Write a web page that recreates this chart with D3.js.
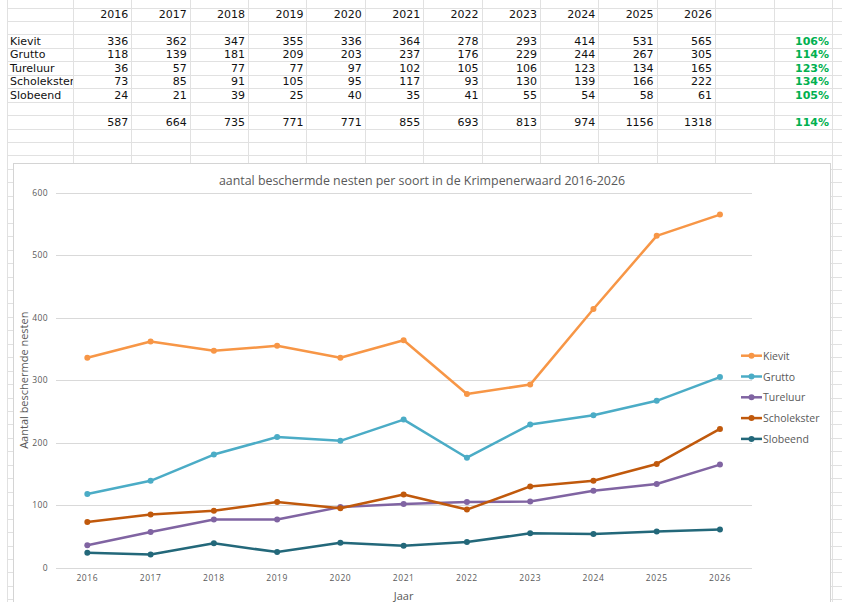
<!DOCTYPE html>
<html>
<head>
<meta charset="utf-8">
<script src="https://cdn.jsdelivr.net/npm/d3@7"></script>
<style>
  html, body { margin: 0; padding: 0; background: #fff; }
  svg { display: block; }
</style>
</head>
<body>
<div id="chart"></div>
<script>
// Broedvogels Krimpenerwaard: table + line chart, spreadsheet look
const years = ['2016', '2017', '2018', '2019', '2020', '2021', '2022', '2023', '2024', '2025', '2026'];
const species = ['Kievit', 'Grutto', 'Tureluur', 'Scholekster', 'Slobeend'];
const kievit = [336, 362, 347, 355, 336, 364, 278, 293, 414, 531, 565];
const grutto = [118, 139, 181, 209, 203, 237, 176, 229, 244, 267, 305];
const tureluur = [36, 57, 77, 77, 97, 102, 105, 106, 123, 134, 165];
const scholekster = [73, 85, 91, 105, 95, 117, 93, 130, 139, 166, 222];
const slobeend = [24, 21, 39, 25, 40, 35, 41, 55, 54, 58, 61];
const totals = [587, 664, 735, 771, 771, 855, 693, 813, 974, 1156, 1318];
const growth = ['106%', '114%', '123%', '134%', '105%'];
const totalGrowth = '114%';
const yTicks = [0, 100, 200, 300, 400, 500, 600];
const colors = ['#F79646', '#4BACC6', '#8064A2', '#C0590C', '#23687A'];

const title = 'aantal beschermde nesten per soort in de Krimpenerwaard 2016-2026';
const yTitle = 'Aantal beschermde nesten';
const xTitle = 'Jaar';

const W = 842, H = 602;
const seriesValues = [kievit, grutto, tureluur, scholekster, slobeend];
const series = species.map((name, i) => ({ name, color: colors[i], values: seriesValues[i] }));

const svg = d3.select('#chart').append('svg').attr('width', W).attr('height', H);

// ---- spreadsheet grid ----
const ROW0 = 7.5, ROWH = 13.45;
const gridColor = '#e1e1e1';
const colEdges = [7, 73];
const colX = d3.scaleBand().domain(years).range([73, 715]).padding(0);
years.forEach(y => colEdges.push(colX(y) + colX.bandwidth()));
colEdges.push(774, 832);

const grid = svg.append('g').attr('shape-rendering', 'crispEdges');
d3.range(-1, 45).forEach(k => {
  const y = Math.round(ROW0 + k * ROWH) + 0.5;
  grid.append('line').attr('x1', 7).attr('x2', W).attr('y1', y).attr('y2', y)
    .attr('stroke', gridColor);
});
colEdges.forEach(x => {
  grid.append('line').attr('x1', Math.round(x) + 0.5).attr('x2', Math.round(x) + 0.5)
    .attr('y1', 0).attr('y2', H).attr('stroke', gridColor);
});

// ---- table text ----
const rowCenter = i => ROW0 + i * ROWH + ROWH / 2 + 0.3;
const tbl = svg.append('g').style('font-family', "'DejaVu Sans', Verdana, sans-serif")
  .style('font-size', '11px').style('fill', '#111');

svg.append('clipPath').attr('id', 'colA').append('rect')
  .attr('x', 7).attr('y', 0).attr('width', 66).attr('height', 150);

tbl.selectAll('.yh').data(years).enter().append('text')
  .attr('x', d => colX(d) + colX.bandwidth() - 3).attr('y', rowCenter(0))
  .attr('text-anchor', 'end').attr('dominant-baseline', 'central').text(d => d);

series.forEach((s, i) => {
  const r = rowCenter(2 + i);
  tbl.append('text').attr('x', 10).attr('y', r).attr('dominant-baseline', 'central')
    .attr('clip-path', 'url(#colA)').text(s.name);
  tbl.selectAll('.v' + i).data(s.values).enter().append('text')
    .attr('x', (d, j) => colX(years[j]) + colX.bandwidth() - 3).attr('y', r)
    .attr('text-anchor', 'end').attr('dominant-baseline', 'central').text(d => d);
  tbl.append('text').attr('x', 829).attr('y', r).attr('text-anchor', 'end')
    .attr('dominant-baseline', 'central').style('font-weight', 'bold').style('fill', '#00B050')
    .text(growth[i]);
});

tbl.selectAll('.tot').data(totals).enter().append('text')
  .attr('x', (d, j) => colX(years[j]) + colX.bandwidth() - 3).attr('y', rowCenter(8))
  .attr('text-anchor', 'end').attr('dominant-baseline', 'central').text(d => d);
tbl.append('text').attr('x', 829).attr('y', rowCenter(8)).attr('text-anchor', 'end')
  .attr('dominant-baseline', 'central').style('font-weight', 'bold').style('fill', '#00B050')
  .text(totalGrowth);

// ---- chart object ----
const cx0 = 13.5, cy0 = 163.5, cw = 817;
svg.append('rect').attr('x', cx0).attr('y', cy0).attr('width', cw).attr('height', H)
  .attr('fill', '#fff').attr('stroke', '#d4d4d4').attr('stroke-width', 1);

const chartFont = "'Open Sans', 'Noto Sans', sans-serif";
const gray = '#595959';

const x = d3.scaleBand().domain(years).range([55.7, 751.6]).padding(0);
const xc = d => x(d) + x.bandwidth() / 2;
const y = d3.scaleLinear().domain([0, 600]).range([567.7, 192.7]);

svg.append('text').attr('x', cx0 + cw / 2).attr('y', 180).attr('text-anchor', 'middle')
  .attr('dominant-baseline', 'central').style('font-family', chartFont)
  .style('font-size', '12.4px').style('fill', gray).text(title);

// gridlines
const gridG = svg.append('g').attr('shape-rendering', 'crispEdges');
gridG.selectAll('line').data(yTicks).enter().append('line')
  .attr('x1', 55.7).attr('x2', 751.6)
  .attr('y1', d => Math.round(y(d)) + 0.5).attr('y2', d => Math.round(y(d)) + 0.5)
  .attr('stroke', '#d9d9d9');

// y axis labels
const yAxis = d3.axisLeft(y).tickValues(yTicks).tickSize(0).tickPadding(0);
const yg = svg.append('g').attr('transform', 'translate(48,0)').call(yAxis);
yg.select('.domain').remove();
yg.selectAll('text').style('font-family', chartFont).style('font-size', '8.5px')
  .style('fill', gray).style('letter-spacing', '0.4px');

// x axis labels
const xAxis = d3.axisBottom(x).tickSize(0).tickPadding(0);
const xg = svg.append('g').attr('transform', 'translate(0,575)').call(xAxis);
xg.select('.domain').remove();
xg.selectAll('text').style('font-family', chartFont).style('font-size', '8.5px')
  .style('fill', gray).style('letter-spacing', '0.6px');

// axis titles
svg.append('text').attr('transform', `translate(23,${(y(0) + y(600)) / 2}) rotate(-90)`)
  .attr('text-anchor', 'middle').attr('dominant-baseline', 'central')
  .style('font-family', chartFont).style('font-size', '11px').style('fill', gray).text(yTitle);
svg.append('text').attr('x', (55.7 + 751.6) / 2).attr('y', 595).attr('text-anchor', 'middle')
  .attr('dominant-baseline', 'central').style('font-family', chartFont)
  .style('font-size', '11px').style('fill', gray).text(xTitle);

// lines + markers
const line = d3.line().x((d, i) => xc(years[i])).y(d => y(d));
const sg = svg.append('g').selectAll('g').data(series).enter().append('g');
sg.append('path').attr('d', d => line(d.values)).attr('fill', 'none')
  .attr('stroke', d => d.color).attr('stroke-width', 2.5).attr('stroke-linejoin', 'round');
sg.each(function (s) {
  d3.select(this).selectAll('circle').data(s.values).enter().append('circle')
    .attr('cx', (d, i) => xc(years[i])).attr('cy', d => y(d)).attr('r', 3)
    .attr('fill', s.color);
});

// legend
const lg = svg.append('g').attr('transform', 'translate(741,355.7)');
const li = lg.selectAll('g').data(series).enter().append('g')
  .attr('transform', (d, i) => `translate(0,${i * 20.8})`);
li.append('line').attr('x1', 0).attr('x2', 21).attr('stroke', d => d.color).attr('stroke-width', 2.5);
li.append('circle').attr('cx', 10.5).attr('r', 3).attr('fill', d => d.color);
li.append('text').attr('x', 22).attr('dominant-baseline', 'central')
  .style('font-family', chartFont).style('font-size', '10.5px').style('fill', gray)
  .text(d => d.name);
</script>
</body>
</html>
